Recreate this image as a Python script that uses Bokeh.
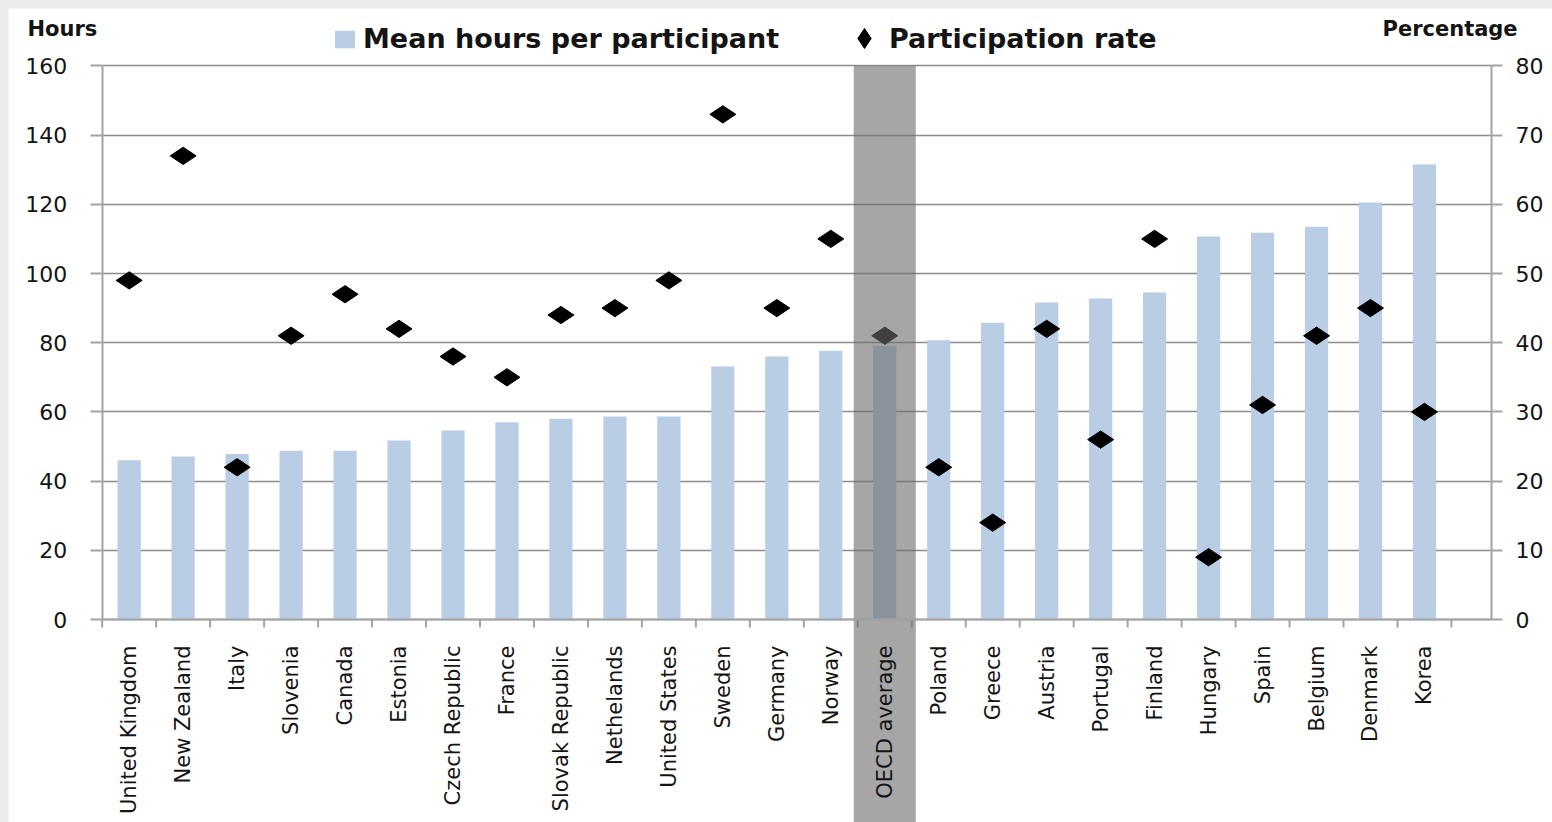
import math
from bokeh.plotting import figure
from bokeh.models import (LinearAxis, Range1d, FixedTicker, Legend, LegendItem,
                          Label, Grid, ColumnDataSource)
from bokeh.embed import file_html
from bokeh.resources import INLINE

# ---------------- data ----------------
categories = ["United Kingdom", "New Zealand", "Italy", "Slovenia", "Canada", "Estonia",
              "Czech Republic", "France", "Slovak Republic", "Nethelands", "United States",
              "Sweden", "Germany", "Norway", "OECD average", "Poland", "Greece", "Austria",
              "Portugal", "Finland", "Hungary", "Spain", "Belgium", "Denmark", "Korea"]
mean_hours = [46.0, 47.1, 47.8, 48.8, 48.8, 51.7, 54.6, 57.0, 58.0, 58.7, 58.7, 73.1, 76.0,
              77.7, 79.1, 80.7, 85.8, 91.6, 92.8, 94.5, 110.7, 111.8, 113.5, 120.5, 131.5]
participation_rate = [49, 67, 22, 41, 47, 42, 38, 35, 44, 45, 49, 73, 45, 55, 41, 22, 14,
                      42, 26, 55, 9, 31, 41, 45, 30]
highlight = "OECD average"
hours_ticks = [0, 20, 40, 60, 80, 100, 120, 140, 160]
pct_ticks = [0, 10, 20, 30, 40, 50, 60, 70, 80]

# ---------------- geometry (pixels) ----------------
PAGE = 8
W, H = 1552 - PAGE, 822 - PAGE
SLOT = 53.97          # px per category
PPH = 3.46            # px per hour
X_ORIGIN = 101.7      # page px of left plot edge (x = -0.5)
Y_ORIGIN = 619.0      # page px of zero line
RIGHT_EDGE = 1491.0   # page px of right axis

def px_x(page_x):
    return -0.5 + (page_x - X_ORIGIN) / SLOT

def px_y(page_y):
    return (Y_ORIGIN - page_y) / PPH

X0, X1 = px_x(PAGE), px_x(PAGE + W)
Y0, Y1 = px_y(PAGE + H), px_y(PAGE)
XR = px_x(RIGHT_EDGE)
ratio = max(pct_ticks) / max(hours_ticks)

idx = list(range(len(categories)))
src = ColumnDataSource(dict(x=idx, hours=mean_hours, pct=participation_rate))

p = figure(width=W, height=H, x_range=Range1d(X0, X1), y_range=Range1d(Y0, Y1),
           x_axis_type=None, y_axis_type=None, output_backend="svg",
           toolbar_location=None, min_border=0, min_border_left=0, min_border_right=0,
           min_border_top=0, min_border_bottom=0)
p.outline_line_color = None
p.background_fill_color = "white"
p.border_fill_color = "white"
p.extra_y_ranges = {"pct": Range1d(Y0 * ratio, Y1 * ratio)}

GRID_C = "#8c8c8c"
AXIS_C = "#a3a3a3"
TXT_C = "#141414"
FONT = "DejaVu Sans"

grid = Grid(dimension=1, ticker=FixedTicker(ticks=hours_ticks), bounds=(0, max(hours_ticks)),
            grid_line_color=GRID_C, grid_line_width=1.6)
if "cross_bounds" in Grid.properties():
    grid.cross_bounds = (-0.5, XR)
    p.add_layout(grid, "center")
else:
    p.segment(x0=-0.5, x1=XR, y0=hours_ticks, y1=hours_ticks, line_color=GRID_C, line_width=1.6)

bars = p.vbar(x="x", top="hours", width=0.43, source=src, fill_color="#b9cde5",
              line_color=None)
pts = p.scatter(x="x", y="pct", source=src, y_range_name="pct", marker="diamond",
                size=26, angle=math.pi / 2, fill_color="black", line_color="black")

# category boundary ticks below the zero line
bounds_x = [i - 0.5 for i in range(len(categories) + 1)]
p.segment(x0=bounds_x, x1=bounds_x, y0=[0] * len(bounds_x), y1=[-8 / PPH] * len(bounds_x),
          line_color=AXIS_C, line_width=2)

# highlight band for the OECD average
hi = categories.index(highlight)
p.vbar(x=[hi], top=[max(hours_ticks)], bottom=[Y0], width=1.15,
       fill_color="#6b6b6b", fill_alpha=0.6, line_color=None)

def style_axis(ax, tick_out, standoff, size="22px"):
    ax.axis_line_color = AXIS_C
    ax.axis_line_width = 2
    ax.major_tick_line_color = AXIS_C
    ax.major_tick_line_width = 2
    ax.major_tick_out = tick_out
    ax.major_tick_in = 0
    ax.minor_tick_out = 0
    ax.minor_tick_in = 0
    ax.minor_tick_line_color = None
    ax.major_label_standoff = standoff
    ax.major_label_text_font = FONT
    ax.major_label_text_font_size = size
    ax.major_label_text_color = TXT_C

yl = LinearAxis(ticker=FixedTicker(ticks=hours_ticks), bounds=(0, max(hours_ticks)),
                fixed_location=-0.5)
style_axis(yl, 12, 23)
p.add_layout(yl, "left")

yr = LinearAxis(y_range_name="pct", ticker=FixedTicker(ticks=pct_ticks),
                bounds=(0, max(pct_ticks)), fixed_location=XR)
style_axis(yr, 11, 13)
p.add_layout(yr, "right")

# category axis (labels) along the zero line
xl = LinearAxis(ticker=FixedTicker(ticks=idx), fixed_location=0, bounds=(-0.5, XR),
                major_label_overrides={i: c for i, c in enumerate(categories)})
style_axis(xl, 0, 26, "21px")
xl.major_tick_line_color = None
xl.major_label_orientation = math.pi / 2
p.add_layout(xl, "below")

common = dict(orientation="horizontal", border_line_color=None, background_fill_alpha=0,
              padding=0, margin=0, label_text_font=FONT, label_text_font_style="bold",
              label_text_font_size="27px", label_text_color=TXT_C)
legend1 = Legend(items=[LegendItem(label="Mean hours per participant", renderers=[bars])],
                 location=(332 - PAGE, PAGE + H - 54), label_standoff=6,
                 glyph_width=25, glyph_height=22, **common)
legend2 = Legend(items=[LegendItem(label="Participation rate", renderers=[pts])],
                 location=(839 - PAGE, PAGE + H - 63), label_standoff=0,
                 glyph_width=50, glyph_height=50, **common)
p.add_layout(legend1)
p.add_layout(legend2)

for txt, left in (("Hours", 27), ("Percentage", 1382)):
    p.add_layout(Label(x=px_x(left), y=px_y(28), text=txt, text_font=FONT,
                       text_font_style="bold", text_font_size="21px",
                       text_baseline="middle", text_align="left", text_color=TXT_C))

html = file_html(p, INLINE)
html = html.replace("</head>",
                    "<style>html, body {overflow: hidden;} "
                    "body {background: #ebebeb; padding: 8px 0 0 8px !important;}</style>\n</head>", 1)
open("out.html", "w").write(html)
